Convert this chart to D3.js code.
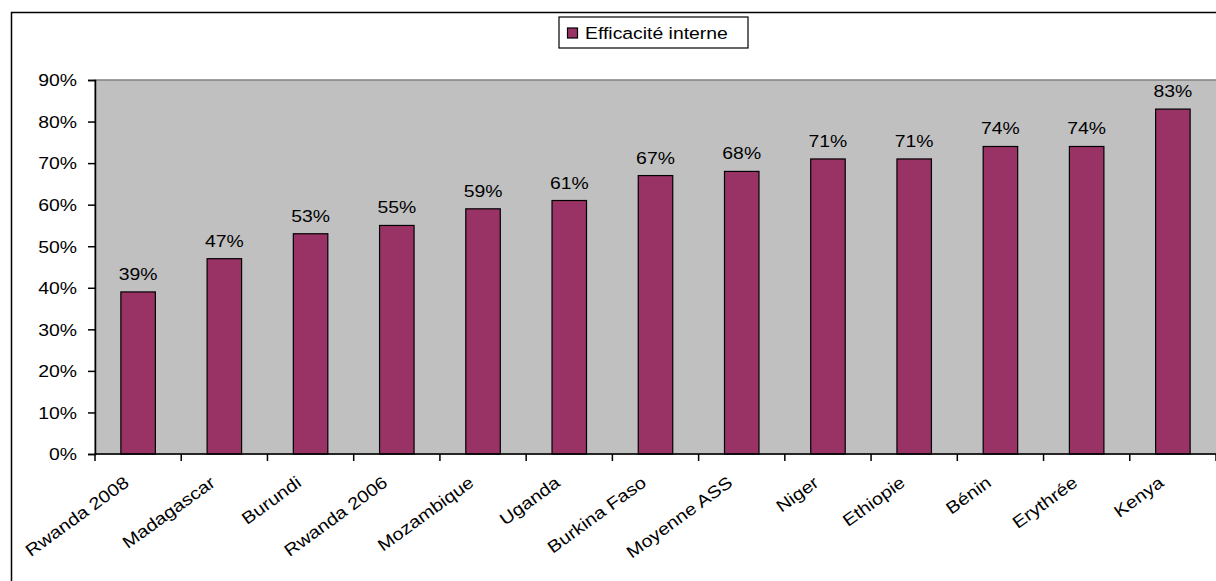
<!DOCTYPE html>
<html>
<head>
<meta charset="utf-8">
<script src="https://cdn.jsdelivr.net/npm/d3@7"></script>
<style>
  html, body { margin: 0; padding: 0; background: #fff; }
  svg { display: block; }
  text { font-family: "Liberation Sans", Arial, sans-serif; fill: #000; }
</style>
</head>
<body>
<svg id="chart" width="1216" height="581"></svg>
<script>
const categories = ["Rwanda 2008", "Madagascar", "Burundi", "Rwanda 2006", "Mozambique", "Uganda",
  "Burkina Faso", "Moyenne ASS", "Niger", "Ethiopie", "Bénin", "Erythrée", "Kenya"];
const values = [39, 47, 53, 55, 59, 61, 67, 68, 71, 71, 74, 74, 83];
const yTicks = [0, 10, 20, 30, 40, 50, 60, 70, 80, 90];
const seriesName = "Efficacité interne";

const svg = d3.select("#chart");
const plot = { left: 95, right: 1216, top: 80, bottom: 454 };
const FS = 17, SX = 1.14;   // font size and horizontal stretch of the text

// outer chart border
svg.append("rect").attr("x", 11.5).attr("y", 12.5).attr("width", 1300).attr("height", 700)
  .attr("fill", "#fff").attr("stroke", "#000").attr("stroke-width", 1.5);

const y = d3.scaleLinear().domain([0, 90]).range([plot.bottom, plot.top]);
const xOuter = d3.scaleBand().domain(categories).range([plot.left, plot.right]).padding(0);
const x = d3.scaleBand().domain(categories).range([plot.left, plot.right])
  .paddingInner(0.6).paddingOuter(0.3);

// plot area
svg.append("rect").attr("x", plot.left).attr("y", plot.top)
  .attr("width", plot.right - plot.left + 2).attr("height", plot.bottom - plot.top)
  .attr("fill", "#c0c0c0").attr("stroke", "#808080").attr("stroke-width", 1.5);

// bars
svg.append("g").selectAll("rect").data(values).join("rect")
  .attr("x", (d, i) => x(categories[i]))
  .attr("y", d => y(d))
  .attr("width", x.bandwidth())
  .attr("height", d => y(0) - y(d))
  .attr("fill", "#993366").attr("stroke", "#000").attr("stroke-width", 1.2);

// helper for stretched text
function label(g, tx, ty, rot, anchor, str, sx) {
  g.append("text")
    .attr("transform", `translate(${tx},${ty}) rotate(${rot}) scale(${sx || SX},1)`)
    .attr("text-anchor", anchor).attr("font-size", FS).text(str);
}

// data labels
const gl = svg.append("g");
values.forEach((d, i) => label(gl, x(categories[i]) + x.bandwidth() / 2, y(d) - 12, 0, "middle", d + "%"));

// y axis (line + ticks through d3 axis)
const yAxis = d3.axisLeft(y).tickValues(yTicks).tickFormat("").tickSize(7);
const gy = svg.append("g").attr("transform", `translate(${plot.left},0)`).call(yAxis);
gy.select(".domain").attr("stroke", "#000").attr("stroke-width", 1.5);
gy.selectAll(".tick line").attr("stroke", "#000").attr("stroke-width", 1.5);
const gyl = svg.append("g");
yTicks.forEach(t => label(gyl, 77, y(t) + 6.3, 0, "end", t + "%"));

// x axis line
svg.append("line").attr("x1", plot.left).attr("x2", plot.right + 2)
  .attr("y1", plot.bottom).attr("y2", plot.bottom)
  .attr("stroke", "#000").attr("stroke-width", 1.5);

// category boundary ticks
const boundaries = categories.map(c => xOuter(c)).concat([plot.right]);
svg.append("g").selectAll("line").data(boundaries).join("line")
  .attr("x1", d => d).attr("x2", d => d)
  .attr("y1", plot.bottom).attr("y2", plot.bottom + 7)
  .attr("stroke", "#000").attr("stroke-width", 1.5);

// x labels
const gxl = svg.append("g");
categories.forEach(c => label(gxl, xOuter(c) + xOuter.bandwidth() / 2 - 8, 485, -36, "end", c, 1.17));

// legend
const lg = svg.append("g");
lg.append("rect").attr("x", 559).attr("y", 17).attr("width", 189).attr("height", 31)
  .attr("fill", "#fff").attr("stroke", "#000").attr("stroke-width", 1.2);
lg.append("rect").attr("x", 567.5).attr("y", 28).attr("width", 10).attr("height", 10)
  .attr("fill", "#993366").attr("stroke", "#000").attr("stroke-width", 1.2);
label(lg, 585, 38.5, 0, "start", seriesName);
</script>
</body>
</html>
